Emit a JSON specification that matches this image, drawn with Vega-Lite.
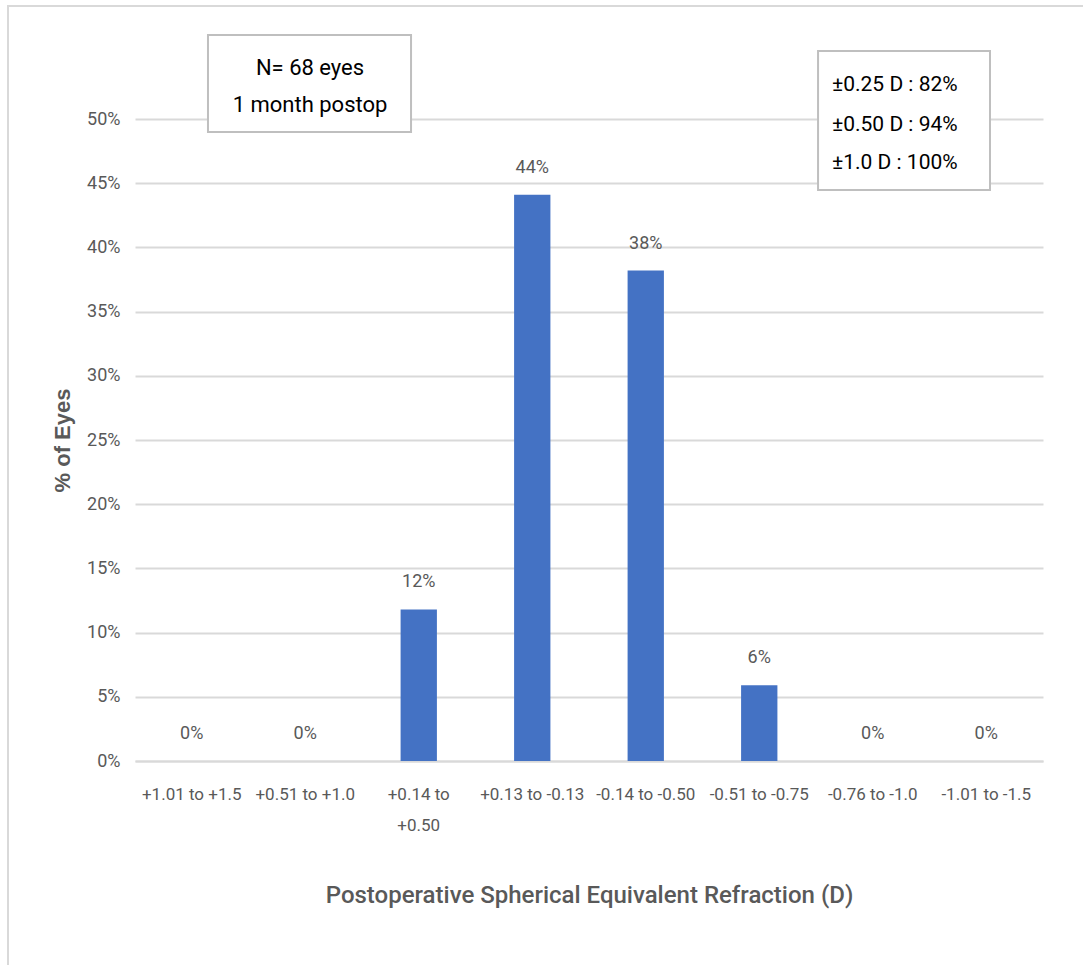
{
  "$schema": "https://vega.github.io/schema/vega-lite/v6.json",
  "width": 908,
  "height": 642,
  "autosize": "none",
  "padding": {"left": 135, "top": 119, "right": 40, "bottom": 204},
  "background": "white",
  "config": {"view": {"stroke": null}, "font": "Roboto"},
  "datasets": {
    "bars": [
      {"range": "+1.01 to +1.5", "pct": 0.0},
      {"range": "+0.51 to +1.0", "pct": 0.0},
      {"range": "+0.14 to +0.50", "pct": 0.118},
      {"range": "+0.13 to -0.13", "pct": 0.441},
      {"range": "-0.14 to -0.50", "pct": 0.382},
      {"range": "-0.51 to -0.75", "pct": 0.059},
      {"range": "-0.76 to -1.0", "pct": 0.0},
      {"range": "-1.01 to -1.5", "pct": 0.0}
    ],
    "border": [{"x": -1.119, "x2": 8.45, "y": 0.588, "y2": -0.17}],
    "boxes": [
      {"x": 0.643, "x2": 2.432, "y": 0.5654, "y2": 0.4899},
      {"x": 6.018, "x2": 7.533, "y": 0.553, "y2": 0.4447}
    ],
    "centerText": [
      {"tx": 1.542, "ty": 0.5397, "t": "N= 68 eyes"},
      {"tx": 1.542, "ty": 0.5109, "t": "1 month postop"}
    ],
    "leftText": [
      {"tx": 6.141, "ty": 0.5265, "t": "±0.25 D : 82%"},
      {"tx": 6.141, "ty": 0.4953, "t": "±0.50 D : 94%"},
      {"tx": 6.141, "ty": 0.4657, "t": "±1.0 D :  100%"}
    ]
  },
  "resolve": {"scale": {"x": "independent"}},
  "layer": [
    {
      "data": {"name": "border"},
      "mark": {"type": "rect", "fill": null, "stroke": "#d9d9d9", "strokeWidth": 2, "clip": false},
      "encoding": {
        "x": {"field": "x", "type": "quantitative", "scale": {"domain": [0, 8], "nice": false, "zero": false}, "axis": null},
        "x2": {"field": "x2"},
        "y": {"field": "y", "type": "quantitative"},
        "y2": {"field": "y2"}
      }
    },
    {
      "data": {"name": "bars"},
      "layer": [
        {
          "mark": {"type": "bar", "color": "#4472C4"},
          "encoding": {
            "x": {
              "field": "range", "type": "nominal", "sort": null,
              "scale": {"paddingInner": 0.68, "paddingOuter": 0.34},
              "axis": {
                "title": "Postoperative Spherical Equivalent Refraction (D)",
                "titleFont": "Roboto",
                "titleFontSize": 24,
                "titleFontWeight": 500,
                "titleColor": "#595959",
                "titlePadding": 50,
                "labelAngle": 0,
                "labelFont": "Roboto",
                "labelFontSize": 17,
                "labelColor": "#595959",
                "labelPadding": 25,
                "labelLineHeight": 31,
                "labelExpr": "datum.label == '+0.14 to +0.50' ? ['+0.14 to', '+0.50'] : datum.label",
                "ticks": false,
                "domainColor": "#d9d9d9",
                "domainWidth": 2,
                "grid": false
              }
            },
            "y": {
              "field": "pct", "type": "quantitative",
              "scale": {"domain": [0, 0.5], "nice": false},
              "axis": {
                "title": "% of Eyes",
                "titleFont": "Liberation Sans",
                "titleFontSize": 22,
                "titleFontWeight": "bold",
                "titleColor": "#595959",
                "titlePadding": 12,
                "values": [0, 0.05, 0.1, 0.15, 0.2, 0.25, 0.3, 0.35, 0.4, 0.45, 0.5],
                "format": ".0%",
                "labelFont": "Roboto",
                "labelFontSize": 18,
                "labelColor": "#595959",
                "labelPadding": 15,
                "ticks": false,
                "domain": false,
                "gridColor": "#d9d9d9",
                "gridWidth": 2
              }
            }
          }
        },
        {
          "mark": {"type": "text", "baseline": "bottom", "dy": -18, "fontSize": 18, "color": "#595959", "font": "Roboto"},
          "encoding": {
            "x": {"field": "range", "type": "nominal", "sort": null},
            "y": {"field": "pct", "type": "quantitative"},
            "text": {"field": "pct", "type": "quantitative", "format": ".0%"}
          }
        }
      ]
    },
    {
      "data": {"name": "boxes"},
      "mark": {"type": "rect", "fill": "white", "stroke": "#bfbfbf", "strokeWidth": 2, "clip": false},
      "encoding": {
        "x": {"field": "x", "type": "quantitative", "scale": {"domain": [0, 8], "nice": false, "zero": false}, "axis": null},
        "x2": {"field": "x2"},
        "y": {"field": "y", "type": "quantitative"},
        "y2": {"field": "y2"}
      }
    },
    {
      "data": {"name": "centerText"},
      "mark": {"type": "text", "align": "center", "baseline": "middle", "fontSize": 22, "color": "black", "font": "Roboto"},
      "encoding": {
        "x": {"field": "tx", "type": "quantitative", "scale": {"domain": [0, 8], "nice": false, "zero": false}, "axis": null},
        "y": {"field": "ty", "type": "quantitative"},
        "text": {"field": "t"}
      }
    },
    {
      "data": {"name": "leftText"},
      "mark": {"type": "text", "align": "left", "baseline": "middle", "fontSize": 21, "color": "black", "font": "Roboto"},
      "encoding": {
        "x": {"field": "tx", "type": "quantitative", "scale": {"domain": [0, 8], "nice": false, "zero": false}, "axis": null},
        "y": {"field": "ty", "type": "quantitative"},
        "text": {"field": "t"}
      }
    }
  ]
}
